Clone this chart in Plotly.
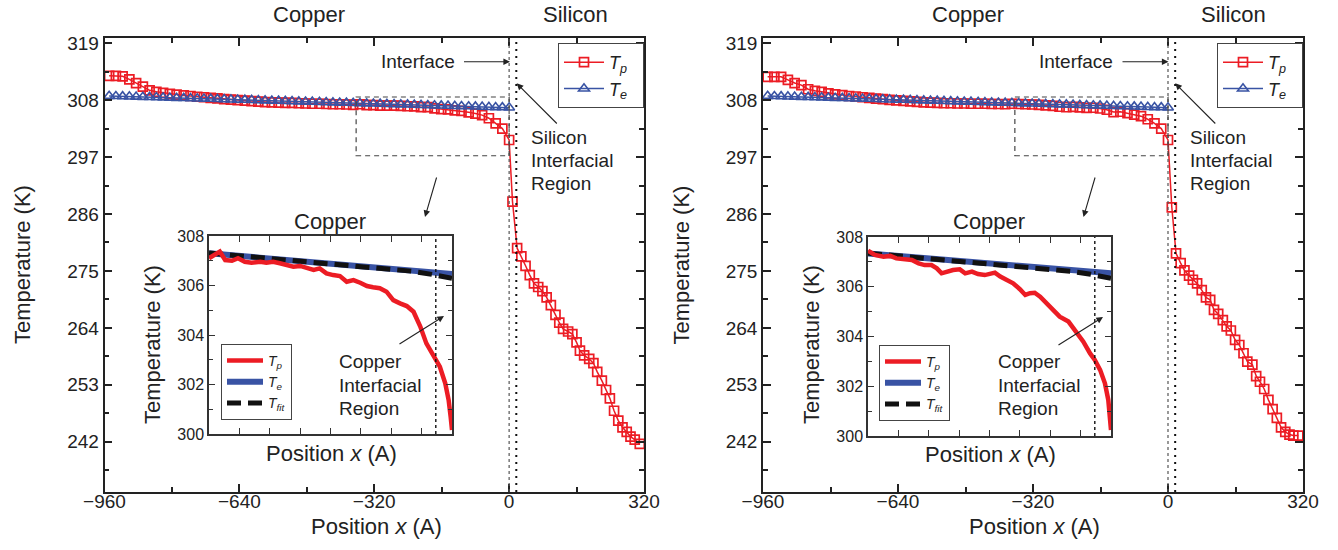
import plotly.graph_objects as go

# ---------------- data ----------------
# copper region (main panels), position in Angstrom
cu_x = [-949, -933, -917, -901, -885, -869, -853, -837, -821, -805,
        -789, -772, -756, -740, -724, -708, -692, -676, -660, -644,
        -627, -611, -595, -579, -563, -547, -531, -515, -499, -483,
        -467, -450, -434, -418, -402, -386, -370, -354, -338, -322,
        -306, -290, -273, -257, -241, -225, -209, -193, -177, -161,
        -145, -129, -113, -96, -80, -64, -48, -32, -16, 0]

te_cu_left = [308.80, 308.76, 308.72, 308.69, 308.65, 308.61, 308.57, 308.53, 308.50, 308.46,
              308.42, 308.38, 308.34, 308.30, 308.27, 308.23, 308.19, 308.15, 308.11, 308.08,
              308.04, 308.00, 307.96, 307.92, 307.88, 307.85, 307.81, 307.77, 307.73, 307.69,
              307.66, 307.62, 307.58, 307.54, 307.50, 307.46, 307.43, 307.39, 307.35, 307.31,
              307.27, 307.24, 307.20, 307.16, 307.12, 307.08, 307.04, 307.01, 306.97, 306.93,
              306.89, 306.85, 306.82, 306.78, 306.74, 306.70, 306.66, 306.62, 306.59, 306.55]
te_cu_right = te_cu_left

tp_cu_left = [312.7, 312.7, 312.6, 312.0, 311.3, 310.6, 309.9, 309.6, 309.4, 309.2,
              309.05, 308.9, 308.8, 308.65, 308.55, 308.45, 308.35, 308.2, 308.1, 308.0,
              307.9, 307.8, 307.7, 307.6, 307.55, 307.5, 307.45, 307.45, 307.4, 307.35,
              307.3, 307.3, 307.25, 307.2, 307.2, 307.15, 307.1, 307.2, 307.03, 307.05,
              306.95, 306.94, 306.93, 306.9, 306.82, 306.78, 306.64, 306.66, 306.42, 306.26,
              306.2, 306.0, 305.92, 305.65, 305.4, 305.1, 304.5, 303.5, 302.5, 300.3]

tp_cu_right = [312.5, 312.5, 312.5, 311.9, 311.3, 310.9, 310.1, 309.8, 309.6, 309.3,
               309.1, 308.95, 308.8, 308.7, 308.55, 308.45, 308.3, 308.2, 308.05, 307.95,
               307.85, 307.75, 307.65, 307.55, 307.5, 307.45, 307.4, 307.4, 307.35, 307.35,
               307.3, 307.3, 307.3, 307.25, 307.25, 307.2, 307.3, 307.25, 307.2, 307.15,
               307.1, 306.98, 306.87, 306.72, 306.62, 306.7, 306.6, 306.5, 306.53, 306.38,
               306.14, 305.7, 305.75, 305.5, 305.2, 304.9, 304.3, 303.5, 302.5, 300.3]

# silicon region (main panels)
si_x_left = [8, 19, 29, 39, 49, 59, 69, 79, 89, 99,
             110, 119, 128, 140, 150, 160, 168, 178, 190, 200,
             209, 220, 230, 239, 249, 259, 269, 279, 288, 298, 310]
tp_si_left = [288.4, 279.4, 277.8, 276.0, 274.2, 272.6, 271.9, 271.1, 269.9, 268.4,
              266.5, 265.0, 263.8, 263.3, 262.8, 261.2, 259.6, 258.7, 258.0, 257.2,
              255.5, 253.8, 252.0, 250.4, 248.0, 246.1, 244.8, 243.9, 243.0, 242.4, 241.6]

si_x_right = [9, 19, 30, 39, 50, 59, 69, 80, 90, 100,
              109, 119, 130, 139, 149, 159, 169, 179, 188, 200,
              209, 218, 228, 238, 248, 258, 268, 278, 288, 297, 309]
tp_si_right = [287.3, 278.4, 276.5, 275.1, 274.1, 273.3, 272.6, 271.3, 269.9, 269.4,
               267.5, 266.7, 265.5, 264.3, 263.5, 261.7, 260.7, 259.1, 257.5, 256.9,
               254.7, 253.6, 252.2, 250.1, 248.3, 246.6, 244.8, 243.9, 243.4, 243.2, 243.2]

# insets (copper near the interface)
in_x_left = [-360, -351, -344, -336, -326, -317, -307, -297, -284, -275,
             -265, -255, -245, -235, -225, -215, -205, -196, -186, -176,
             -166, -156, -146, -136, -126, -117, -107, -97, -87, -77,
             -67, -57, -47, -38, -28, -18, -10, -5, -2, 0]
in_tp_left = [307.10, 307.23, 307.37, 307.03, 307.00, 307.10, 306.96, 306.92, 306.96, 306.92,
              306.96, 306.90, 306.83, 306.76, 306.79, 306.69, 306.63, 306.69, 306.49, 306.42,
              306.38, 306.15, 306.22, 306.11, 305.98, 305.93, 305.89, 305.75, 305.41, 305.28,
              305.17, 304.94, 304.34, 303.66, 303.19, 302.72, 302.05, 301.37, 300.70, 300.16]

in_x_right = [-360, -350, -337, -327, -318, -305, -295, -285, -276, -266,
              -258, -251, -243, -234, -224, -216, -206, -197, -187, -179,
              -172, -164, -155, -145, -135, -127, -120, -113, -105, -95,
              -85, -76, -63, -51, -41, -31, -24, -16, -9, -4, -1.5, 0]
in_tp_right = [307.45, 307.28, 307.21, 307.24, 307.14, 307.10, 307.08, 306.94, 306.87, 306.87,
               306.74, 306.54, 306.61, 306.67, 306.70, 306.54, 306.61, 306.51, 306.47, 306.51,
               306.57, 306.41, 306.27, 306.14, 305.90, 305.67, 305.74, 305.76, 305.60, 305.33,
               305.07, 304.80, 304.60, 304.19, 303.79, 303.32, 303.06, 302.65, 302.12, 301.45,
               300.78, 300.24]

te_in_x = [-360, -270, -180, -90, 0]
te_in_left = [307.30, 307.09, 306.88, 306.67, 306.46]
te_in_right = [307.34, 307.14, 306.94, 306.74, 306.54]

fit_in_x = [-360, -270, -180, -100, -60, -30, -10, 0]
fit_in_left = [307.31, 307.10, 306.89, 306.69, 306.58, 306.45, 306.35, 306.29]
fit_in_right = [307.35, 307.13, 306.92, 306.73, 306.62, 306.50, 306.40, 306.34]

main_xticks = [-960, -640, -320, 0, 320]
main_yticks = [242, 253, 264, 275, 286, 297, 308, 319]
inset_yticks = [300, 302, 304, 306, 308]

# ---------------- styling helpers ----------------
W, H = 1338, 550
FONT = "Liberation Sans, Arial, Helvetica, sans-serif"
RED = "#ec1c24"
BLUE = "#3953a4"
INK = "#222222"
PAD = "&nbsp;&nbsp;"
TP = "<i>T<sub>p</sub></i>"
TE = "<i>T<sub>e</sub></i>"
TF = "<i>T<sub>fit</sub></i>"


def px(x):
    return x / W


def py(y):
    return 1 - y / H


fig = go.Figure()

panels = [
    dict(xm="x", ym="y", xi="x2", yi="y2", lm="legend", li="legend2",
         cux=cu_x, tp=tp_cu_left, te=te_cu_left, six=si_x_left, tpsi=tp_si_left,
         inx=in_x_left, intp=in_tp_left, inte=te_in_left, infit=fit_in_left),
    dict(xm="x3", ym="y3", xi="x4", yi="y4", lm="legend3", li="legend4",
         cux=cu_x, tp=tp_cu_right, te=te_cu_right, six=si_x_right, tpsi=tp_si_right,
         inx=in_x_right, intp=in_tp_right, inte=te_in_right, infit=fit_in_right),
]

for p in panels:
    fig.add_trace(go.Scatter(
        x=p["cux"] + p["six"], y=p["tp"] + p["tpsi"], mode="lines+markers", name=TP + PAD,
        line=dict(color=RED, width=1.5),
        marker=dict(symbol="square-open", size=9, color=RED, line=dict(width=1.7)),
        xaxis=p["xm"], yaxis=p["ym"], legend=p["lm"]))
    fig.add_trace(go.Scatter(
        x=p["cux"], y=p["te"], mode="lines+markers", name=TE + PAD,
        line=dict(color=BLUE, width=1.5),
        marker=dict(symbol="triangle-up-open", size=9.5, color=BLUE, line=dict(width=1.6)),
        xaxis=p["xm"], yaxis=p["ym"], legend=p["lm"]))
    # inset
    fig.add_trace(go.Scatter(
        x=te_in_x, y=p["inte"], mode="lines", name=TE, legendrank=2,
        line=dict(color=BLUE, width=6),
        xaxis=p["xi"], yaxis=p["yi"], legend=p["li"]))
    fig.add_trace(go.Scatter(
        x=fit_in_x, y=p["infit"], mode="lines", name=TF, legendrank=3,
        line=dict(color="#111111", width=5, dash="14px,7px"),
        xaxis=p["xi"], yaxis=p["yi"], legend=p["li"]))
    fig.add_trace(go.Scatter(
        x=p["inx"], y=p["intp"], mode="lines", name=TP, legendrank=1,
        line=dict(color=RED, width=4.5),
        xaxis=p["xi"], yaxis=p["yi"], legend=p["li"]))


def main_x(dom):
    return dict(domain=dom, range=[-960, 320], tickmode="array", tickvals=main_xticks,
                ticks="inside", ticklen=8, tickwidth=1.5, tickcolor=INK, automargin=False,
                ticklabelstandoff=-9,
                minor=dict(dtick=160, tick0=-960, ticks="inside", ticklen=5, tickwidth=1.5, tickcolor=INK),
                showline=True, linecolor=INK, linewidth=1.5, mirror="ticks",
                showgrid=False, zeroline=False, tickfont=dict(size=19, color=INK, family=FONT))


def main_y(anchor):
    return dict(domain=[py(492), py(38)], range=[232.3, 320], tickmode="array", tickvals=main_yticks,
                ticks="inside", ticklen=8, tickwidth=1.5, tickcolor=INK, automargin=False,
                minor=dict(dtick=5.5, tick0=242, ticks="inside", ticklen=5, tickwidth=1.5, tickcolor=INK),
                showline=True, linecolor=INK, linewidth=1.5, mirror="ticks",
                showgrid=False, zeroline=False, anchor=anchor,
                tickfont=dict(size=19, color=INK, family=FONT))


def inset_x(dom):
    return dict(domain=dom, range=[-360, 0], tickmode="linear", tick0=-360, dtick=45,
                ticks="inside", ticklen=6, tickwidth=1.3, tickcolor="#333", automargin=False,
                showticklabels=False, showline=True, linecolor="#333", linewidth=1.5,
                mirror="ticks", showgrid=False, zeroline=False)


def inset_y(dom, anchor):
    return dict(domain=dom, range=[300, 308], tickmode="array", tickvals=inset_yticks,
                ticks="inside", ticklen=6, tickwidth=1.3, tickcolor="#333", automargin=False,
                minor=dict(dtick=1, tick0=300, ticks="inside", ticklen=4, tickwidth=1.3, tickcolor="#333"),
                showline=True, linecolor="#333", linewidth=1.5, mirror="ticks",
                showgrid=False, zeroline=False, anchor=anchor,
                tickfont=dict(size=16, color=INK, family=FONT))


def legend_box(x, y, size, itemwidth=40):
    return dict(x=px(x), y=py(y), xanchor="left", yanchor="top", xref="paper", yref="paper",
                bgcolor="white", bordercolor="#444", borderwidth=1,
                font=dict(size=size, color=INK, family=FONT), itemwidth=itemwidth,
                tracegroupgap=0, traceorder="normal")


fig.update_layout(
    width=W, height=H, margin=dict(l=0, r=0, t=0, b=0, autoexpand=False),
    paper_bgcolor="white", plot_bgcolor="white",
    font=dict(family=FONT, color=INK, size=19),
    xaxis=dict(anchor="y", **main_x([px(104.5), px(644)])),
    yaxis=main_y("x"),
    xaxis2=dict(anchor="y2", **inset_x([px(209), px(452)])),
    yaxis2=inset_y([py(434), py(236)], "x2"),
    xaxis3=dict(anchor="y3", **main_x([px(763), px(1303)])),
    yaxis3=main_y("x3"),
    xaxis4=dict(anchor="y4", **inset_x([px(868), px(1111)])),
    yaxis4=inset_y([py(436), py(237)], "x4"),
    legend=legend_box(558, 43, 18),
    legend3=legend_box(1217, 43, 18),
    legend2=legend_box(221, 344, 14, 36),
    legend4=legend_box(879, 345, 14, 36),
)

shapes = []
annotations = []


def txt(text, x, y, size=19, xanchor="center", angle=0):
    annotations.append(dict(text=text, x=px(x), y=py(y), xref="paper", yref="paper",
                            xanchor=xanchor, yanchor="middle", showarrow=False, textangle=angle,
                            font=dict(size=size, color=INK, family=FONT)))


def arrow(tipx, tipy, tailx, taily, text="", gap=0):
    annotations.append(dict(text=text, x=px(tipx), y=py(tipy), xref="paper", yref="paper",
                            ax=tailx - tipx, ay=taily - tipy, axref="pixel", ayref="pixel",
                            showarrow=True, arrowhead=2, arrowsize=1.2, arrowwidth=1.1,
                            startstandoff=gap,
                            arrowcolor=INK, font=dict(size=19, color=INK, family=FONT)))


for p, off, inx0, iny0 in [(panels[0], 0, 0, 0), (panels[1], 658.5, 659, 1)]:
    xm, ym, xi, yi = p["xm"], p["ym"], p["xi"], p["yi"]
    # interface (dashed) and silicon interfacial region (dotted)
    shapes.append(dict(type="line", xref=xm, yref=ym + " domain", x0=0, x1=0, y0=0, y1=1,
                       line=dict(color="#555", width=1.2, dash="3px,3px")))
    shapes.append(dict(type="line", xref=xm, yref=ym + " domain", x0=17, x1=17, y0=0, y1=1,
                       line=dict(color="#111", width=2, dash="2px,5px")))
    # zoom box
    shapes.append(dict(type="rect", xref=xm, yref=ym, x0=-363, x1=0, y0=297.25, y1=308.6,
                       line=dict(color="#444", width=1.2, dash="5px,4px")))
    # copper interfacial region inside inset
    shapes.append(dict(type="line", xref=xi, yref=yi + " domain", x0=-24, x1=-24, y0=0, y1=1,
                       line=dict(color="#111", width=1.4, dash="3px,3px")))

    # texts
    txt("Copper", 309 + off, 15, size=22)
    txt("Silicon", 575 + off, 15, size=22)
    txt("Temperature (K)", 22 + off, 265, size=22, angle=-90)
    txt("Position <i>x</i> (A)", 376 + off, 526, size=22)
    arrow(510 + off, 61.7, 417.5 + off, 61.7, text="Interface", gap=8)
    for line_text, yy in [("Silicon", 137.3), ("Interfacial", 160.7), ("Region", 184)]:
        txt(line_text, 529.3 + off, yy, xanchor="left")
    arrow(516.7 + off, 83.3, 558.3 + off, 125)
    arrow(425 + off, 217, 437 + off, 176)
    # inset texts
    txt("Copper", 330 + inx0, 221 + iny0, size=22)
    txt("Temperature (K)", 152 + inx0, 345, size=22, angle=-90)
    txt("Position <i>x</i> (A)", 331 + inx0, 453 + iny0, size=22)
    for line_text, yy in [("Copper", 361.7), ("Interfacial", 385), ("Region", 408.3)]:
        txt(line_text, 336.7 + inx0, yy, xanchor="left")
    arrow(444 + inx0, 316 + iny0, 398 + inx0, 345 + iny0)

fig.update_layout(shapes=shapes, annotations=annotations)

fig.write_html("out.html", config={"displayModeBar": False},
               post_script="document.body.style.margin='0px';")
